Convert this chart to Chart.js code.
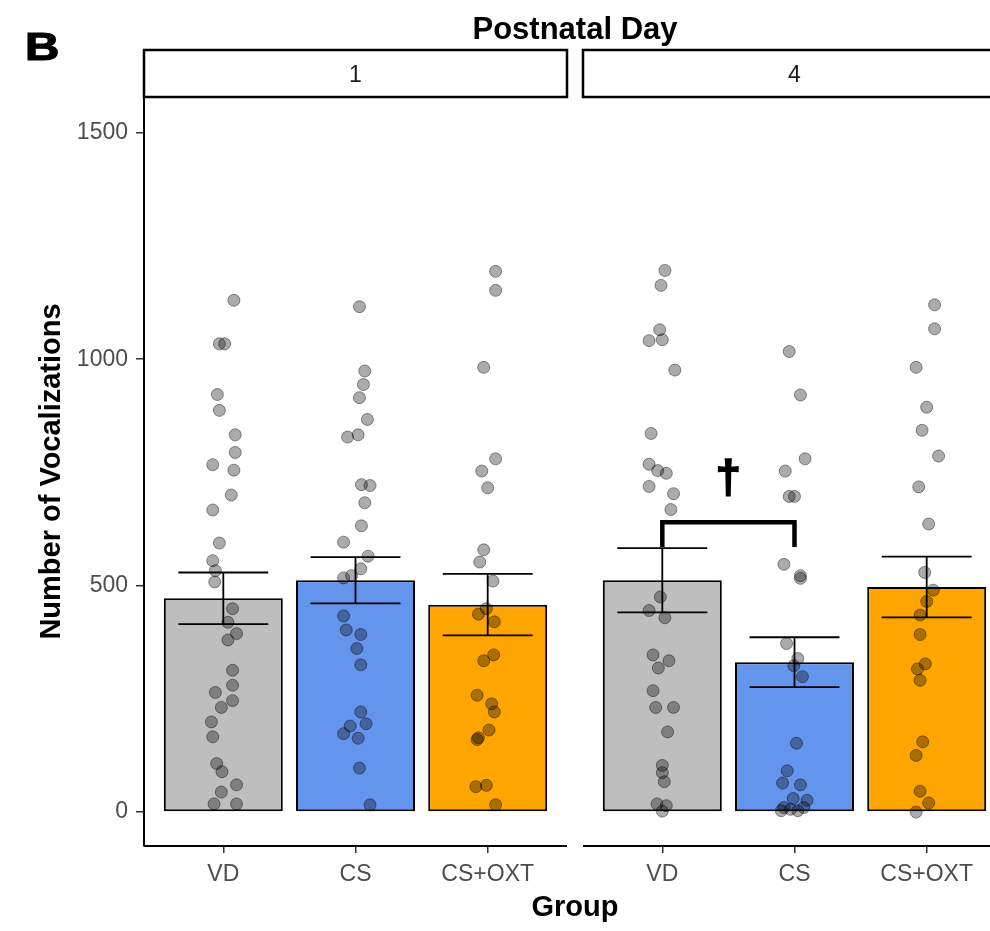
<!DOCTYPE html>
<html>
<head>
<meta charset="utf-8">
<script src="https://cdn.jsdelivr.net/npm/chart.js@4.4.1/dist/chart.umd.min.js"></script>
<style>
    html, body { margin: 0; padding: 0; background: #fff; }
    #wrap { width: 990px; height: 931px; position: relative; overflow: hidden; }
</style>
</head>
<body>
<div id="wrap"><canvas id="vocChart"></canvas></div>
<script>
// Values
const days = ['1', '4'];
const groups = ['VD', 'CS', 'CS+OXT'];
const yTicks = [0, 500, 1000, 1500];

const meanDay1 = [472, 512, 458];
const meanDay4 = [512, 331, 497];
const seDay1 = [57, 51, 68];
const seDay4 = [71, 55, 67];

// single pups: [vocalizations, jitter (in category units)]
const vdDay1 = [[1130, 0.08], [1034, -0.03], [1034, 0.01], [922, -0.045], [887, -0.03], [833, 0.09], [794, 0.09], [767, -0.08], [755, 0.08], [700, 0.06], [667, -0.08], [594, -0.03], [555, -0.08], [533, -0.06], [508, -0.065], [449, 0.07], [419, 0.035], [394, 0.1], [380, 0.035], [313, 0.07], [280, 0.07], [264, -0.06], [246, 0.07], [231, -0.015], [199, -0.09], [166, -0.08], [107, -0.05], [89, -0.01], [60, 0.1], [44, -0.015], [18, -0.07], [18, 0.1]];
const csDay1 = [[1116, 0.03], [974, 0.07], [944, 0.06], [915, 0.03], [867, 0.09], [828, -0.06], [833, 0.02], [723, 0.045], [721, 0.11], [683, 0.07], [632, 0.045], [596, -0.09], [565, 0.095], [537, 0.04], [522, -0.03], [517, -0.09], [433, -0.09], [402, -0.07], [392, 0.04], [361, 0.01], [325, 0.04], [221, 0.04], [195, 0.08], [190, -0.04], [173, -0.09], [163, 0.02], [97, 0.03], [16, 0.11]];
const oxtDay1 = [[1194, 0.06], [1152, 0.06], [982, -0.03], [780, 0.06], [753, -0.045], [716, 0], [579, -0.03], [552, -0.06], [510, 0.04], [449, -0.01], [437, -0.07], [420, 0.05], [347, 0.045], [334, -0.03], [258, -0.08], [239, 0.03], [221, 0.05], [181, 0.01], [164, -0.07], [160, -0.08], [56, -0.09], [59, -0.01], [16, 0.06]];
const vdDay4 = [[1196, 0.02], [1163, -0.01], [1065, -0.02], [1041, -0.1], [1043, 0], [976, 0.095], [836, -0.085], [768, -0.1], [754, -0.035], [748, 0.03], [719, -0.1], [703, 0.085], [668, 0.065], [475, -0.015], [445, -0.1], [429, 0.02], [347, -0.07], [334, 0.05], [318, -0.03], [268, -0.07], [231, -0.05], [231, 0.085], [177, 0.04], [103, 0], [87, 0], [67, 0.015], [18, -0.04], [14, 0.03], [2, 0]];
const csDay4 = [[1017, -0.04], [921, 0.045], [780, 0.08], [753, -0.07], [697, -0.04], [697, 0], [547, -0.08], [522, 0.045], [516, 0.045], [372, -0.06], [339, 0.025], [323, -0.005], [299, 0.06], [152, 0.015], [91, -0.055], [64, -0.09], [60, 0.045], [30, -0.01], [26, 0.095], [10, -0.08], [6, -0.03], [3, 0.025], [10, 0.07], [3, -0.1]];
const oxtDay4 = [[1120, 0.06], [1067, 0.06], [982, -0.08], [894, 0], [843, -0.035], [786, 0.09], [718, -0.06], [636, 0.015], [529, -0.015], [490, 0.05], [465, 0], [435, -0.05], [392, -0.05], [327, -0.01], [316, -0.07], [291, -0.05], [155, -0.03], [125, -0.08], [46, -0.05], [20, 0.015], [0, -0.08]];

// significance bracket (day 4, VD vs CS)
const sigDay = 1;
const sigGroups = [0, 1];
const sigTop = 640;
const sigLeg = 585;
const sigLabel = '\u2020';
const sigLabelAt = 733;

// layout / style
const groupColors = ['#BEBEBE', '#6495ED', '#FFA500'];
const panelOffset = [0, 3.321];   // second facet starts after a small gap
const capHalf = 0.34;
const font = "'Liberation Sans', Arial, Helvetica, sans-serif";

const means = [meanDay1, meanDay4];
const ses = [seDay1, seDay4];
const pups = [[vdDay1, csDay1, oxtDay1], [vdDay4, csDay4, oxtDay4]];
const pos = (d, g) => panelOffset[d] + g + 1;

const barData = [], barColors = [], pointData = [], errData = [];
const tickPos = [], tickLabels = [];

days.forEach((day, d) => {
    groups.forEach((g, i) => {
        const x = pos(d, i);
        tickPos.push(x);
        tickLabels.push(g);
        barData.push({ x: x, y: means[d][i] });
        barColors.push(groupColors[i]);
        pups[d][i].forEach(p => pointData.push({ x: x + p[1], y: p[0] }));

        const lo = means[d][i] - ses[d][i];
        const hi = means[d][i] + ses[d][i];
        errData.push(
            { x: x - capHalf, y: hi }, { x: x + capHalf, y: hi }, { x: x, y: null },
            { x: x - capHalf, y: lo }, { x: x + capHalf, y: lo }, { x: x, y: null },
            { x: x, y: lo }, { x: x, y: hi }, { x: x, y: null }
        );
    });
});

const sx1 = pos(sigDay, sigGroups[0]);
const sx2 = pos(sigDay, sigGroups[1]);
const bracketData = [
    { x: sx1, y: sigLeg }, { x: sx1, y: sigTop },
    { x: sx2, y: sigTop }, { x: sx2, y: sigLeg }
];

// strips, facet titles, split x axis line and the dagger
const facetPlugin = {
    id: 'facetPlugin',
    afterDraw(chart) {
        const { ctx, chartArea, scales: { x, y } } = chart;
        ctx.save();

        days.forEach((day, d) => {
            const l = x.getPixelForValue(panelOffset[d] + 0.4);
            const r = x.getPixelForValue(panelOffset[d] + 3.6);

            // strip box
            ctx.lineWidth = 2.5;
            ctx.strokeStyle = '#000';
            ctx.strokeRect(l, 50, r - l, chartArea.top - 50);
            ctx.fillStyle = '#1a1a1a';
            ctx.font = '23px ' + font;
            ctx.textAlign = 'center';
            ctx.textBaseline = 'middle';
            ctx.fillText(day, (l + r) / 2, 76);

            // x axis line of the panel
            ctx.lineWidth = 2;
            ctx.beginPath();
            ctx.moveTo(l, chartArea.bottom);
            ctx.lineTo(r, chartArea.bottom);
            ctx.stroke();
        });

        const left = x.getPixelForValue(panelOffset[0] + 0.4);
        const right = x.getPixelForValue(panelOffset[1] + 3.6);
        const mid = (left + right) / 2;

        ctx.fillStyle = '#000';
        ctx.textAlign = 'center';
        ctx.textBaseline = 'alphabetic';
        ctx.font = 'bold 31px ' + font;
        ctx.fillText('Postnatal Day', mid, 39);
        ctx.font = 'bold 29px ' + font;
        ctx.fillText('Group', mid, 916);

        // panel tag, wide and heavy like the original
        ctx.save();
        ctx.translate(25, 60);
        ctx.scale(1.25, 1);
        ctx.textAlign = 'left';
        ctx.font = 'bold 38px ' + font;
        ctx.lineWidth = 1.2;
        ctx.strokeStyle = '#000';
        ctx.fillText('B', 0, 0);
        ctx.strokeText('B', 0, 0);
        ctx.restore();

        ctx.textAlign = 'center';
        ctx.textBaseline = 'middle';
        ctx.font = 'bold 46px ' + font;
        ctx.lineWidth = 1.5;
        const dx = (x.getPixelForValue(sx1) + x.getPixelForValue(sx2)) / 2;
        const dy = y.getPixelForValue(sigLabelAt);
        ctx.fillText(sigLabel, dx, dy);
        ctx.strokeText(sigLabel, dx, dy);

        ctx.restore();
    }
};

Chart.defaults.font.family = font;

const ctx = document.getElementById('vocChart').getContext('2d');
const vocChart = new Chart(ctx, {
    type: 'bar',
    data: {
        datasets: [
            {
                type: 'line',
                data: bracketData,
                borderColor: '#000',
                borderWidth: 4.5,
                borderJoinStyle: 'miter',
                pointRadius: 0,
                tension: 0,
                order: 0
            },
            {
                type: 'line',
                data: errData,
                borderColor: '#000',
                borderWidth: 1.8,
                pointRadius: 0,
                spanGaps: false,
                tension: 0,
                order: 1
            },
            {
                type: 'scatter',
                data: pointData,
                backgroundColor: 'rgba(0,0,0,0.33)',
                borderColor: 'rgba(0,0,0,0.42)',
                borderWidth: 1,
                pointRadius: 6,
                order: 2
            },
            {
                type: 'bar',
                data: barData,
                backgroundColor: barColors,
                borderColor: '#000',
                borderWidth: 2,
                borderSkipped: false,
                categoryPercentage: 0.9,
                barPercentage: 1,
                order: 3
            }
        ]
    },
    options: {
        responsive: true,
        maintainAspectRatio: false,
        animation: false,
        devicePixelRatio: 1,
        layout: { autoPadding: false, padding: { top: 97, left: 0, right: 0, bottom: 0 } },
        plugins: {
            legend: { display: false },
            tooltip: { enabled: false },
            title: { display: false }
        },
        scales: {
            x: {
                type: 'linear',
                min: 0.4,
                max: 6.8,
                offset: false,
                afterFit: s => { s.height = 85; },
                afterBuildTicks: s => { s.ticks = tickPos.map(v => ({ value: v })); },
                ticks: {
                    autoSkip: false,
                    maxRotation: 0,
                    padding: 8,
                    color: '#4d4d4d',
                    font: { size: 23 },
                    callback: (v, i) => tickLabels[i]
                },
                grid: { display: true, drawOnChartArea: false, drawTicks: true, tickLength: 7, color: '#333', lineWidth: 1.5, offset: false },
                border: { display: false }
            },
            y: {
                min: -75,
                max: 1579,
                afterFit: s => { s.width = 144; },
                afterBuildTicks: s => { s.ticks = yTicks.map(v => ({ value: v })); },
                ticks: {
                    padding: 8,
                    color: '#4d4d4d',
                    font: { size: 23 },
                    callback: v => String(v)
                },
                grid: { display: true, drawOnChartArea: false, drawTicks: true, tickLength: 8, color: '#333', lineWidth: 1.5 },
                border: { display: true, color: '#000', width: 2 },
                title: {
                    display: true,
                    text: 'Number of Vocalizations',
                    color: '#000',
                    font: { size: 29, weight: 'bold' },
                    padding: { top: 35, bottom: 0 }
                }
            }
        }
    },
    plugins: [facetPlugin]
});
</script>
</body>
</html>
